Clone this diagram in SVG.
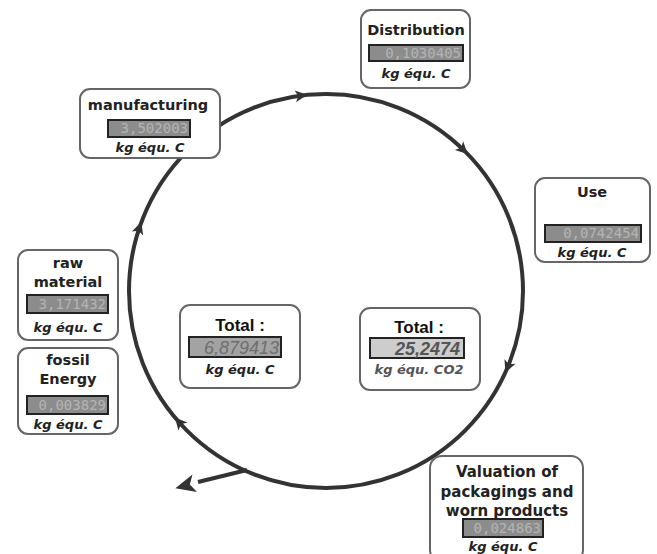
<svg xmlns="http://www.w3.org/2000/svg" width="657" height="554" viewBox="0 0 657 554">
<style>
.box{fill:#fff;stroke:#666;stroke-width:2}
.title{font-family:"DejaVu Sans",Verdana,sans-serif;font-weight:bold;font-size:14.5px;fill:#222;text-anchor:middle}
.unit{font-family:"DejaVu Sans",Verdana,sans-serif;font-weight:bold;font-style:italic;font-size:13px;fill:#222;text-anchor:middle}
.vbox{fill:#8c8c8c;stroke:#222;stroke-width:2}
.val{font-family:"DejaVu Sans Mono",monospace;font-size:14px;fill:#b4b4b4;text-anchor:end}
.tot{font-family:"Liberation Sans",Arial,sans-serif;font-weight:bold;font-size:17px;fill:#111;text-anchor:middle}
.ring{fill:none;stroke:#333;stroke-width:4}
.ah{fill:#333}
</style>
<defs>
<path id="head" d="M6,0 L-6,-6 L-3,0 L-6,6 Z"/>
</defs>
<rect width="657" height="554" fill="#fff"/>
<g id="connectors">
<circle class="ring" cx="326" cy="291" r="197"/>
<use href="#head" class="ah" transform="translate(301.3,95.6) rotate(-7.2)"/>
<use href="#head" class="ah" transform="translate(463.3,149.8) rotate(44.2)"/>
<use href="#head" class="ah" transform="translate(507.7,367) rotate(112.7)"/>
<use href="#head" class="ah" transform="translate(178.9,422) rotate(228.3)"/>
<use href="#head" class="ah" transform="translate(139.4,227.8) rotate(288.7)"/>
<line x1="247" y1="470" x2="198" y2="482" stroke="#333" stroke-width="4"/>
<path class="ah" d="M11,0 L-9,-9 L-4,0 L-9,9 Z" transform="translate(186,485.5) rotate(165.5)"/>
</g>
<g id="manufacturing">
<rect class="box" x="80" y="89" width="140" height="69" rx="10"/>
<text class="title" x="148" y="110">manufacturing</text>
<rect class="vbox" x="108" y="120" width="82" height="17"/>
<text class="val" x="188" y="133">3,502003</text>
<text class="unit" x="150" y="152">kg équ. C</text>
</g>
<g id="distribution">
<rect class="box" x="361" y="10" width="109" height="78" rx="10"/>
<text class="title" x="416" y="35">Distribution</text>
<rect class="vbox" x="369" y="45" width="94" height="16"/>
<text class="val" x="461" y="58">0,1030405</text>
<text class="unit" x="416" y="78">kg équ. C</text>
</g>
<g id="use">
<rect class="box" x="535" y="178" width="115" height="84" rx="10"/>
<text class="title" x="592" y="197">Use</text>
<rect class="vbox" x="545" y="225" width="96" height="17"/>
<text class="val" x="639" y="238">0,0742454</text>
<text class="unit" x="592" y="257">kg équ. C</text>
</g>
<g id="raw-material">
<rect class="box" x="18" y="250" width="100" height="90" rx="10"/>
<text class="title" x="68" y="268">raw</text>
<text class="title" x="68" y="287">material</text>
<rect class="vbox" x="27" y="295" width="81" height="18"/>
<text class="val" x="106" y="309">3,171432</text>
<text class="unit" x="68" y="332">kg équ. C</text>
</g>
<g id="fossil-energy">
<rect class="box" x="18" y="348" width="100" height="86" rx="10"/>
<text class="title" x="68" y="365">fossil</text>
<text class="title" x="68" y="384">Energy</text>
<rect class="vbox" x="27" y="396" width="81" height="18"/>
<text class="val" x="106" y="410">0,003829</text>
<text class="unit" x="68" y="429">kg équ. C</text>
</g>
<g id="total-c">
<rect class="box" x="180" y="305" width="120" height="83" rx="10"/>
<text class="tot" x="240" y="331">Total :</text>
<rect x="189" y="337" width="92" height="20" fill="#a3a3a3" stroke="#222" stroke-width="2"/>
<text x="279" y="354" font-family="'Liberation Sans',Arial,sans-serif" font-style="italic" font-size="18" fill="#6e6e6e" text-anchor="end">6,879413</text>
<text class="unit" x="240" y="374">kg équ. C</text>
</g>
<g id="total-co2">
<rect class="box" x="360" y="308" width="120" height="82" rx="10"/>
<text class="tot" x="419" y="333">Total :</text>
<rect x="370" y="338" width="94" height="20" fill="#cdcdcd" stroke="#222" stroke-width="2"/>
<text x="460" y="355" font-family="'Liberation Sans',Arial,sans-serif" font-style="italic" font-weight="bold" font-size="18" fill="#555" text-anchor="end">25,2474</text>
<text class="unit" x="419" y="374" style="fill:#555">kg équ. CO2</text>
</g>
<g id="valuation">
<rect class="box" x="430" y="456" width="153" height="106" rx="12"/>
<text class="title" x="507" y="477" style="font-size:15px">Valuation of</text>
<text class="title" x="507" y="497" style="font-size:15px">packagings and</text>
<text class="title" x="507" y="516" style="font-size:15px">worn products</text>
<rect class="vbox" x="463" y="519" width="80" height="18"/>
<text class="val" x="541" y="533">0,024863</text>
<text class="unit" x="503" y="551">kg équ. C</text>
</g>
</svg>
